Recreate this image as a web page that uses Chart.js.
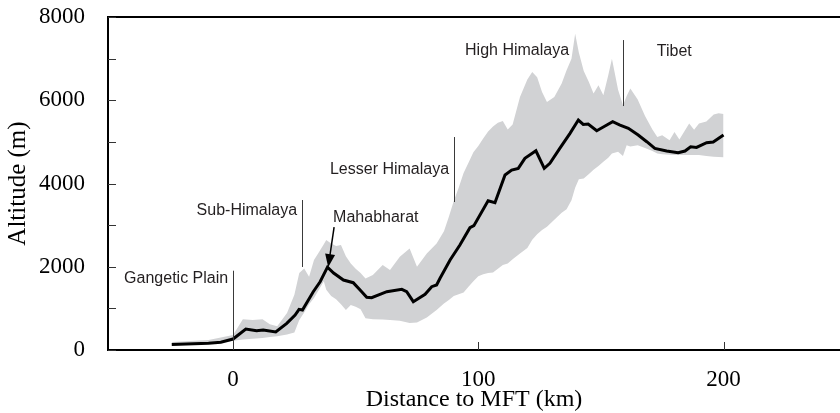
<!DOCTYPE html>
<html>
<head>
<title>Himalaya swath profile</title>
<style type="text/css">
  body { margin: 0; background: #fff; }
  #chart-container { width: 840px; height: 413px; }
</style>
</head>
<body>
<script type="text/javascript" src="https://cdn.jsdelivr.net/npm/chart.js@4.4.0/dist/chart.umd.min.js"></script>

<div id="chart-container">
  <canvas id="mycanvas" width="840" height="413"></canvas>
</div>

<script type="text/javascript">
// mean altitude along the profile
var kmMean = [-25, -10, -5, 0, 5.2, 9.6, 12.3, 17.4, 21.9, 25.3, 26.9, 28.3, 32.7, 35.5, 38.5, 41, 45, 49, 51.8,
  54.5, 56.5, 62.7, 68.8, 70.8, 73.5, 78.3, 81, 83, 84.4, 88.5, 92.5, 96.6, 98.2, 104, 106.8, 110.9, 113.6,
  116.3, 119, 123.5, 126.9, 129.2, 133.3, 137.4, 140.8, 142.8, 144.8, 148.3, 151.7, 154.8, 157.8, 161.2,
  165.2, 168.7, 172, 176.8, 181.5, 184.3, 186.6, 189, 193.1, 195.8, 200];
var altMean = [130, 160, 185, 264, 504, 464, 480, 432, 640, 840, 977, 960, 1400, 1640, 1990, 1850, 1680, 1617, 1440,
  1265, 1257, 1401, 1457, 1401, 1161, 1337, 1521, 1561, 1722, 2162, 2522, 2938, 2986, 3586, 3538, 4204, 4324,
  4364, 4604, 4787, 4364, 4484, 4850, 5205, 5525, 5420, 5428, 5268, 5380, 5484, 5404, 5325,
  5165, 5004, 4844, 4780, 4740, 4780, 4883, 4868, 4980, 4996, 5165];

// min / max altitude envelope
var kmBand = [-25, -10, 0, 4, 8, 12, 15, 18, 22, 25, 27, 29, 31, 33, 35, 37, 38, 40, 42, 44, 46, 48, 50, 52, 54,
  57, 61, 64, 68, 72, 75, 79, 83, 86, 88, 90, 92, 94, 96, 98, 100, 102, 104, 106, 108, 110, 112, 114, 117, 120,
  122, 124, 126, 128, 131, 134, 136, 138, 139.5, 141, 143, 145, 147, 149, 151, 153, 154.5, 157, 159, 160.5,
  162, 165, 168, 171, 173, 175, 178, 180, 182, 184, 186, 188, 190, 193, 196, 198, 200];
var bandMax = [190, 240, 360, 740, 720, 740, 620, 570, 890, 1330,
  1850, 1960, 1760, 2160, 2350, 2540, 2640, 2560, 2500, 2520,
  2250, 2080, 1950, 1850, 1720, 1800, 2040, 1920, 2240, 2440,
  2000, 2320, 2560, 2850, 3200, 3580, 3900, 4250, 4500, 4750,
  4900, 5080, 5250, 5370, 5460, 5500, 5300, 5420, 6080, 6500,
  6680, 6550, 6200, 5960, 6080, 6400, 6720, 7000, 7600, 7150,
  6700, 6450, 6160, 6360, 6120, 6600, 7000, 6250, 5880, 6100,
  6280, 6020, 5620, 5300, 5120, 5160, 5040, 5240, 5060, 5250,
  5440, 5290, 5440, 5490, 5660, 5690, 5670];
var bandMin = [110, 150, 220, 250, 270, 290, 310, 330, 370, 420,
  720, 900, 1100, 1250, 1450, 1650, 1450, 1300, 1220, 1100,
  960, 1080, 1040, 980, 760, 740, 730, 720, 700, 650,
  660, 780, 960, 1120, 1200, 1300, 1340, 1380, 1520, 1650,
  1770, 1820, 1850, 1860, 1950, 2040, 2080, 2180, 2320, 2450,
  2650, 2780, 2880, 2960, 3130, 3300, 3380, 3600, 3900, 4100,
  4120, 4220, 4330, 4420, 4520, 4620, 4720, 4760, 4660, 4920,
  4890, 4920, 4850, 4780, 4720, 4700, 4690, 4685, 4685, 4685,
  4685, 4685, 4684, 4660, 4645, 4635, 4628];

var xTicks = [0, 100, 200];
var yTicks = [0, 1000, 2000, 3000, 4000, 5000, 6000, 7000, 8000];
var yTickLabels = ['0', '', '2000', '', '4000', '', '6000', '', '8000'];

// zone names: text anchor in km / m, and which side of the anchor the text sits
var zoneNames = ['Gangetic Plain', 'Sub-Himalaya', 'Lesser Himalaya', 'High Himalaya', 'Tibet', 'Mahabharat'];
var zoneKm = [-2, 26.1, 88.1, 94.6, 172.8, 40.8];
var zoneAlt = [1722, 3339, 4324, 7200, 7170, 3171];
var zoneAlign = ['right', 'right', 'right', 'left', 'left', 'left'];

// divider lines between zones: km, bottom alt, top alt
var dividerKm = [0, 28.1, 90.1, 158.9];
var dividerLow = [0, 1994, 3555, 5861];
var dividerHigh = [1905, 3603, 5116, 7446];

function toPts(xs, ys) {
  return xs.map(function (x, i) { return { x: x, y: ys[i] }; });
}

var frameAndNotes = {
  id: 'frameAndNotes',
  afterDatasetsDraw: function (chart) {
    var ctx = chart.ctx, xs = chart.scales.x, ys = chart.scales.y;
    ctx.save();
    // dividers
    ctx.strokeStyle = '#3a3a3a';
    ctx.lineWidth = 1;
    dividerKm.forEach(function (k, i) {
      var px = Math.round(xs.getPixelForValue(k)) + 0.5;
      ctx.beginPath();
      ctx.moveTo(px, ys.getPixelForValue(dividerLow[i]));
      ctx.lineTo(px, ys.getPixelForValue(dividerHigh[i]));
      ctx.stroke();
    });
    // labels
    ctx.fillStyle = '#231f20';
    ctx.font = '16px "Liberation Sans", Arial, sans-serif';
    ctx.textBaseline = 'middle';
    zoneNames.forEach(function (name, i) {
      ctx.textAlign = zoneAlign[i];
      ctx.fillText(name, xs.getPixelForValue(zoneKm[i]), ys.getPixelForValue(zoneAlt[i]));
    });
    // arrow to the Mahabharat peak
    var x0 = xs.getPixelForValue(41.2), y0 = ys.getPixelForValue(2954);
    var x1 = xs.getPixelForValue(38.8), y1 = ys.getPixelForValue(1990);
    var ang = Math.atan2(y1 - y0, x1 - x0);
    ctx.strokeStyle = '#000';
    ctx.fillStyle = '#000';
    ctx.lineWidth = 1.5;
    ctx.beginPath();
    ctx.moveTo(x0, y0);
    ctx.lineTo(x1 - 9 * Math.cos(ang), y1 - 9 * Math.sin(ang));
    ctx.stroke();
    ctx.beginPath();
    ctx.moveTo(x1, y1);
    ctx.lineTo(x1 - 13 * Math.cos(ang) + 5 * Math.sin(ang), y1 - 13 * Math.sin(ang) - 5 * Math.cos(ang));
    ctx.lineTo(x1 - 13 * Math.cos(ang) - 5 * Math.sin(ang), y1 - 13 * Math.sin(ang) + 5 * Math.cos(ang));
    ctx.closePath();
    ctx.fill();
    ctx.restore();
  },
  afterDraw: function (chart) {
    var ctx = chart.ctx, area = chart.chartArea, xs = chart.scales.x, ys = chart.scales.y;
    ctx.save();
    ctx.strokeStyle = '#000';
    // top frame line
    ctx.lineWidth = 2;
    ctx.beginPath();
    ctx.moveTo(area.left - 1, area.top);
    ctx.lineTo(area.right, area.top);
    ctx.stroke();
    // inward tick marks
    ctx.lineWidth = 1;
    ctx.strokeStyle = '#333';
    ys.ticks.forEach(function (t) {
      var py = Math.round(ys.getPixelForValue(t.value)) + 0.5;
      ctx.beginPath();
      ctx.moveTo(area.left, py);
      ctx.lineTo(area.left + 8, py);
      ctx.stroke();
    });
    xs.ticks.forEach(function (t) {
      var px = Math.round(xs.getPixelForValue(t.value)) + 0.5;
      ctx.beginPath();
      ctx.moveTo(px, area.bottom);
      ctx.lineTo(px, area.bottom - 8);
      ctx.stroke();
    });
    ctx.restore();
  }
};

var serif = 'Liberation Serif, "Times New Roman", serif';

var chartdata = {
  datasets: [
    {
      label: 'Mean',
      data: toPts(kmMean, altMean),
      borderColor: '#000',
      borderWidth: 3,
      pointRadius: 0,
      fill: false,
      tension: 0
    },
    {
      label: 'Max',
      data: toPts(kmBand, bandMax),
      borderWidth: 0,
      borderColor: 'rgba(0,0,0,0)',
      backgroundColor: '#d1d2d4',
      pointRadius: 0,
      fill: '+1'
    },
    {
      label: 'Min',
      data: toPts(kmBand, bandMin),
      borderWidth: 0,
      borderColor: 'rgba(0,0,0,0)',
      pointRadius: 0,
      fill: false
    }
  ]
};

var ctx = document.getElementById('mycanvas');

var profile = new Chart(ctx, {
  type: 'line',
  data: chartdata,
  plugins: [frameAndNotes],
  options: {
    responsive: false,
    animation: false,
    devicePixelRatio: 1,
    layout: { padding: { top: 17, right: 0, bottom: 0, left: 0 } },
    plugins: { legend: { display: false }, tooltip: { enabled: false } },
    scales: {
      x: {
        type: 'linear',
        min: -51,
        max: 247.5,
        afterBuildTicks: function (scale) { scale.ticks = xTicks.map(function (v) { return { value: v }; }); },
        afterFit: function (scale) { scale.height = 63; scale.paddingLeft = 0; scale.paddingRight = 0; },
        grid: { display: false },
        border: { display: true, color: '#000', width: 2 },
        ticks: { color: '#000', padding: 8, maxRotation: 0, font: { family: serif, size: 23 },
          callback: function (v) { return String(v); } },
        title: { display: true, text: 'Distance to MFT (km)', color: '#000',
          font: { family: serif, size: 24, lineHeight: 1 }, padding: { top: 0, bottom: 1 } }
      },
      y: {
        type: 'linear',
        min: 0,
        max: 8000,
        afterBuildTicks: function (scale) { scale.ticks = yTicks.map(function (v) { return { value: v }; }); },
        afterFit: function (scale) { scale.width = 108; scale.paddingTop = 0; scale.paddingBottom = 0; },
        grid: { display: false },
        border: { display: true, color: '#000', width: 2 },
        ticks: { color: '#000', padding: 15, autoSkip: false, font: { family: serif, size: 23 },
          callback: function (v, i) { return yTickLabels[i]; } },
        title: { display: true, text: 'Altitude (m)', color: '#000',
          font: { family: serif, size: 25, lineHeight: 1 }, padding: { top: 6, bottom: 0 } }
      }
    }
  }
});
</script>
</body>
</html>
